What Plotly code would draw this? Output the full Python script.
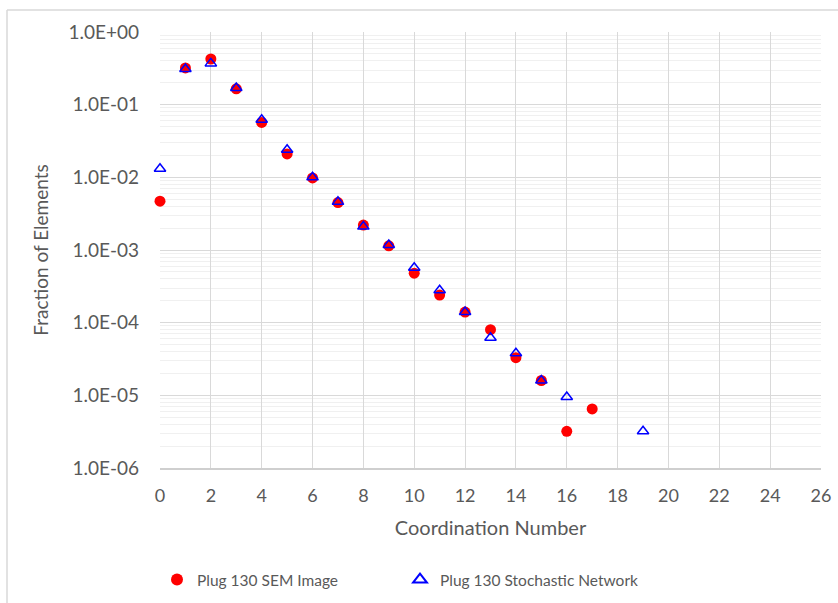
import plotly.graph_objects as go

# Coordination number distributions
sem_x = [0, 1, 2, 3, 4, 5, 6, 7, 8, 9, 10, 11, 12, 13, 14, 15, 16, 17]
sem_y = [4.7e-3, 0.32, 0.425, 0.165, 0.057, 0.021, 0.0098, 0.0045, 2.2e-3, 1.14e-3,
         4.8e-4, 2.4e-4, 1.4e-4, 8.0e-5, 3.3e-5, 1.6e-5, 3.2e-6, 6.5e-6]

net_x = [0, 1, 2, 3, 4, 5, 6, 7, 8, 9, 10, 11, 12, 13, 14, 15, 16, 19]
net_y = [0.0131, 0.31, 0.37, 0.17, 0.062, 0.024, 0.010, 0.0046, 2.1e-3, 1.17e-3,
         5.7e-4, 2.8e-4, 1.4e-4, 6.2e-5, 3.8e-5, 1.6e-5, 9.5e-6, 3.2e-6]

y_tick_vals = [1e-6, 1e-5, 1e-4, 1e-3, 1e-2, 1e-1, 1e0]
y_tick_text = ["1.0E-06", "1.0E-05", "1.0E-04", "1.0E-03", "1.0E-02", "1.0E-01", "1.0E+00"]
x_tick_vals = list(range(0, 27, 2))

FONT = "Lato, 'Open Sans', sans-serif"
GREY = "#595959"

W, H = 838, 603
ML, MR, MT, MB = 160, 17, 32, 135

fig = go.Figure()
fig.add_trace(go.Scatter(
    x=sem_x, y=sem_y, mode="markers", name="Plug 130 SEM Image",
    marker=dict(symbol="circle", size=11, color="#FF0000"),
    cliponaxis=False,
))
fig.add_trace(go.Scatter(
    x=net_x, y=net_y, mode="markers", name="Plug 130 Stochastic Network",
    marker=dict(symbol="triangle-up-open", size=10, color="#0000FF",
                line=dict(width=1.5, color="#0000FF")),
    cliponaxis=False,
))

# outer chart frame (paper coords from pixel positions)
def px_x(p):
    return (p - ML) / (W - ML - MR)

def px_y(p):
    return (H - MB - p) / (H - MT - MB)

fig.add_shape(type="line", xref="paper", yref="paper",
              x0=px_x(7), x1=px_x(838), y0=px_y(10), y1=px_y(10),
              line=dict(color="#d9d9d9", width=1.5))
fig.add_shape(type="line", xref="paper", yref="paper",
              x0=px_x(7), x1=px_x(7), y0=px_y(10), y1=px_y(603),
              line=dict(color="#d9d9d9", width=1.5))

fig.update_layout(
    width=W, height=H,
    margin=dict(l=ML, r=MR, t=MT, b=MB, autoexpand=False),
    paper_bgcolor="white", plot_bgcolor="white",
    font=dict(family=FONT, color=GREY, size=16),
    showlegend=True,
    legend=dict(orientation="h", x=px_x(157), xanchor="left",
                y=px_y(563), yanchor="top",
                font=dict(family=FONT, size=15.5, color=GREY),
                itemsizing="constant", tracegroupgap=0,
                entrywidth=198),
    xaxis=dict(
        range=[0, 26], tickmode="array", tickvals=x_tick_vals,
        showgrid=True, gridcolor="#d9d9d9", gridwidth=1, automargin=False,
        zeroline=False, showline=True, linecolor="#cfcfcf", linewidth=1.5,
        ticks="", ticklabelstandoff=11,
        tickfont=dict(family=FONT, size=18, color=GREY),
        title=dict(text="Coordination Number", standoff=16,
                   font=dict(family=FONT, size=20, color=GREY)),
    ),
    yaxis=dict(
        type="log", range=[-6, 0], tickmode="array",
        tickvals=y_tick_vals, ticktext=y_tick_text, automargin=False,
        showgrid=True, gridcolor="#d9d9d9", gridwidth=1,
        zeroline=False, showline=False, ticks="", ticklabelstandoff=20,
        tickfont=dict(family=FONT, size=19, color=GREY),
        minor=dict(dtick="D1", showgrid=True, gridcolor="#f0f0f0", gridwidth=1),
        title=dict(text="Fraction of Elements", standoff=14,
                   font=dict(family=FONT, size=19, color=GREY)),
    ),
)

fig.write_html("out.html")
